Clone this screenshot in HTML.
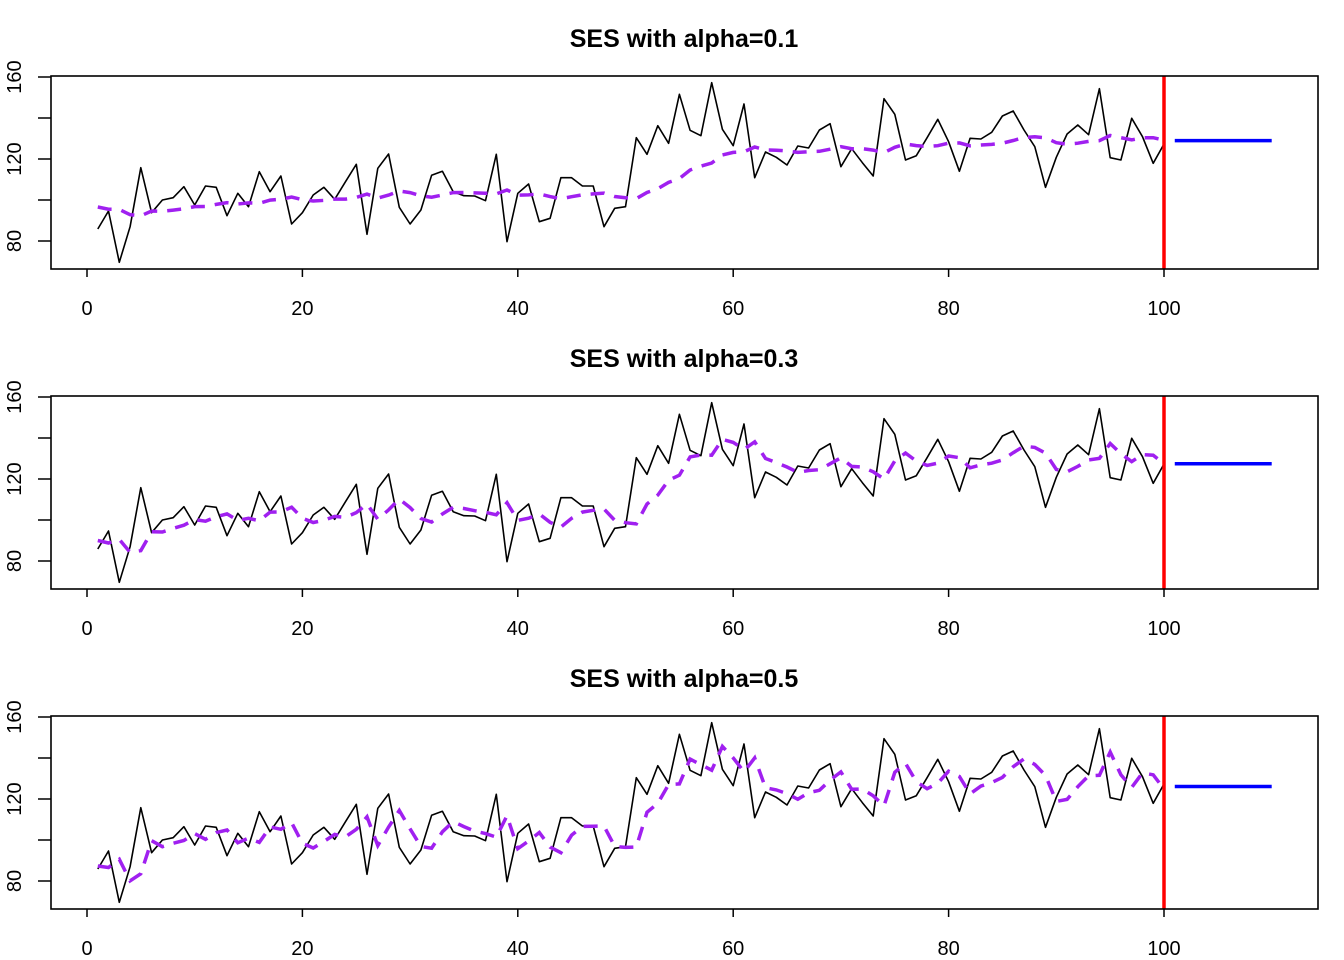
<!DOCTYPE html>
<html><head><meta charset="utf-8"><style>
html,body{margin:0;padding:0;background:#fff;}
svg{display:block;font-family:"Liberation Sans",Arial,sans-serif;}
</style></head><body>
<svg id="s" width="1344" height="960" xmlns="http://www.w3.org/2000/svg"></svg>
<script>
var zy=[477,423,577,470,293,428,390,383,350,405,348,352,437,370,410,305,365,318,462,428,375,352,388,335,283,493,295,252,412,462,420,316,304,365,377,378,392,253,515,370,342,455,445,323,323,348,348,470,415,410,203,
253,167,220,73,181,197,38,178,227,102,323,246,262,285,228,234,180,161,290,236,278,318,86,133,270,257,203,148,215,304,205,207,187,138,123,180,230,352,262,192,165,194,56,263,270,145,200,280,222];
var Y=zy.map(function(z){var py=70+z/3;return 120+(159-py)/(82/40);});
function px(t){return 87+t*10.77;}
function py(v,off){return off+159-(v-120)*(82/40);}
var s='';
var cfg=[[0.1,96.6,'SES with alpha=0.1'],[0.3,90,'SES with alpha=0.3'],[0.5,87.3,'SES with alpha=0.5']];
for(var p=0;p<3;p++){
 var off=p*320,a=cfg[p][0],l=cfg[p][1];
 s+='<text x="684" y="'+(47+off)+'" text-anchor="middle" font-size="25" font-weight="bold">'+cfg[p][2]+'</text>';
 for(var v=80;v<=160;v+=20){var yy=py(v,off);s+='<line x1="38" x2="51" y1="'+yy+'" y2="'+yy+'" stroke="#000" stroke-width="1.5"/>';}
 [80,120,160].forEach(function(v){var yy=py(v,off);s+='<text transform="translate(21,'+yy+') rotate(-90)" text-anchor="middle" font-size="20">'+v+'</text>';});
 for(var t=0;t<=100;t+=20){var xx=px(t);s+='<line x1="'+xx+'" x2="'+xx+'" y1="'+(269+off)+'" y2="'+(277+off)+'" stroke="#000" stroke-width="1.5"/><text x="'+xx+'" y="'+(315+off)+'" text-anchor="middle" font-size="20">'+t+'</text>';}
 var d='';for(var i=0;i<100;i++){d+=(i?'L':'M')+px(i+1).toFixed(1)+','+py(Y[i],off).toFixed(1);}
 s+='<path d="'+d+'" fill="none" stroke="#000" stroke-width="1.6" stroke-linejoin="round"/>';
 var f=l,fd='';for(var i=0;i<100;i++){fd+=(i?'L':'M')+px(i+1).toFixed(1)+','+py(f,off).toFixed(1);f=a*Y[i]+(1-a)*f;}
 s+='<path d="'+fd+'" fill="none" stroke="#a020f0" stroke-width="3.5" stroke-dasharray="14 10"/>';
 s+='<line x1="'+px(101)+'" x2="'+px(110)+'" y1="'+py(f,off)+'" y2="'+py(f,off)+'" stroke="#0000ff" stroke-width="3.5"/>';
 s+='<line x1="1164" x2="1164" y1="'+(76+off)+'" y2="'+(269+off)+'" stroke="#ff0000" stroke-width="3.5"/>';
 s+='<rect x="51" y="'+(76+off)+'" width="1267" height="193" fill="none" stroke="#000" stroke-width="1.6"/>';
}
document.getElementById('s').innerHTML=s;
</script>
</body></html>
